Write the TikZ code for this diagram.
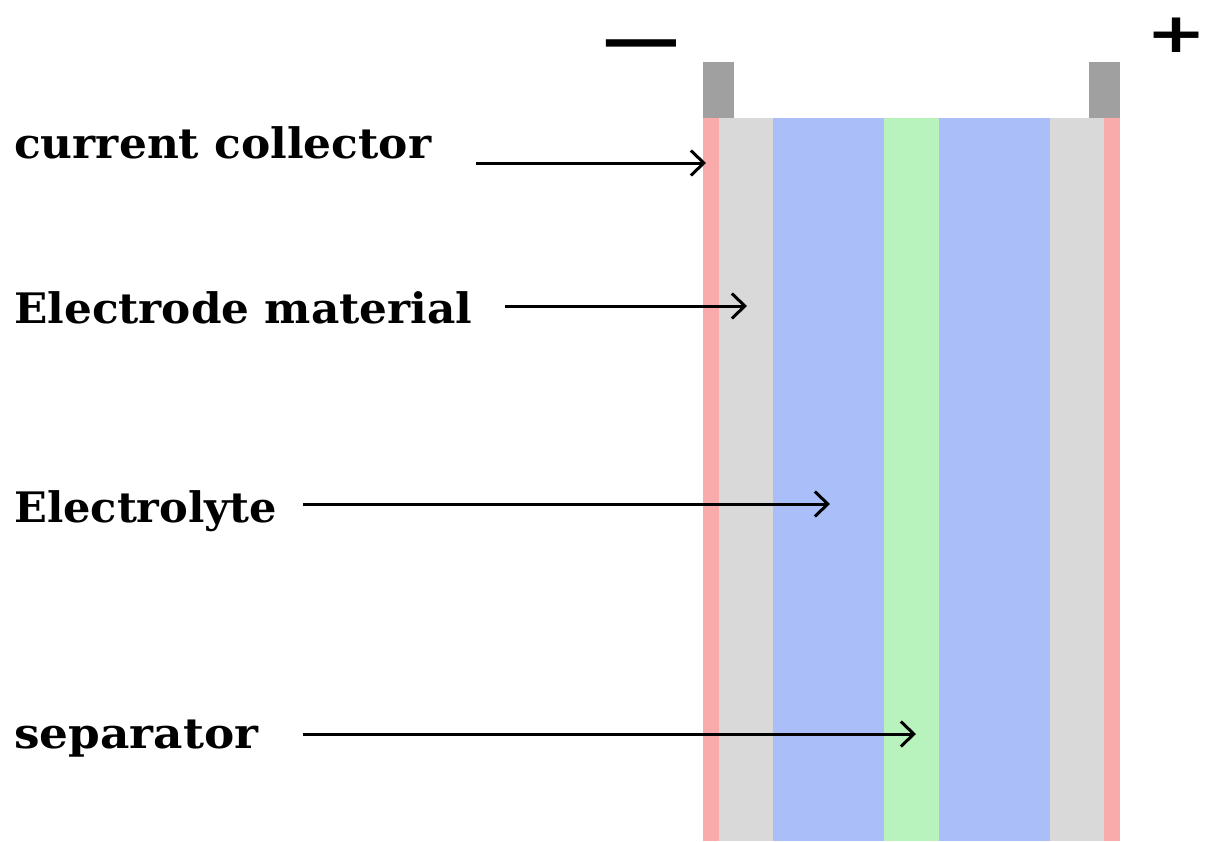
\documentclass[tikz,border=0pt]{standalone}
\usepackage{fontspec}
\setmainfont{DejaVu Serif}
\newfontfamily\signfont{DejaVu Sans}
\usetikzlibrary{arrows.meta}
\definecolor{ccred}{HTML}{F9AAAA}
\definecolor{elgray}{HTML}{D9D9D9}
\definecolor{lyblue}{HTML}{AABFFA}
\definecolor{sepgreen}{HTML}{B8F2BC}
\definecolor{tabgray}{HTML}{A0A0A0}
\newcommand{\fitlbl}[2]{\resizebox{#1}{\height}{#2}}
\tikzset{
  lbl/.style={anchor=base west, inner sep=0pt, font=\bfseries\fontsize{42}{46}\selectfont},
  pointer/.style={line width=3pt, -{Straight Barb[length=13pt,width=25pt,line width=3pt]}},
  sign/.style={inner sep=0pt, font=\signfont\bfseries\fontsize{64}{70}\selectfont}
}
\begin{document}
\begin{tikzpicture}[x=1pt,y=-1pt]
\useasboundingbox (0,0) rectangle (1205,841);
% tabs
\fill[tabgray] (703,62) rectangle (734,118);
\fill[tabgray] (1089,62) rectangle (1120,118);
% layers
\fill[ccred] (703,118) rectangle (719,841);
\fill[elgray] (719,118) rectangle (773,841);
\fill[lyblue] (773,118) rectangle (884,841);
\fill[sepgreen] (884,118) rectangle (939,841);
\fill[lyblue] (939,118) rectangle (1050,841);
\fill[elgray] (1050,118) rectangle (1104,841);
\fill[ccred] (1104,118) rectangle (1120,841);
% signs
\node[sign] (minus) at (641,52) {\scalebox{1.75}[1]{−}};
\node[sign] (plus) at (1177,35) {\scalebox{1.12}[0.86]{+}};
% labels
\node[lbl] (cc) at (14,158) {\fitlbl{417pt}{current collector}};
\node[lbl] (em) at (14,323) {\fitlbl{458pt}{Electrode material}};
\node[lbl] (ely) at (14,522) {\fitlbl{263pt}{Electrolyte}};
\node[lbl] (sep) at (14,748) {\fitlbl{244pt}{separator}};
% arrow coordinates
\coordinate (ccS) at (476,163);
\coordinate (ccE) at (706,163);
\coordinate (emS) at (505,306);
\coordinate (emE) at (747,306);
\coordinate (elyS) at (303,504);
\coordinate (elyE) at (830,504);
\coordinate (sepS) at (303,734);
\coordinate (sepE) at (916,734);
\draw[pointer] (ccS) -- (ccE);
\draw[pointer] (emS) -- (emE);
\draw[pointer] (elyS) -- (elyE);
\draw[pointer] (sepS) -- (sepE);
\end{tikzpicture}
\end{document}
